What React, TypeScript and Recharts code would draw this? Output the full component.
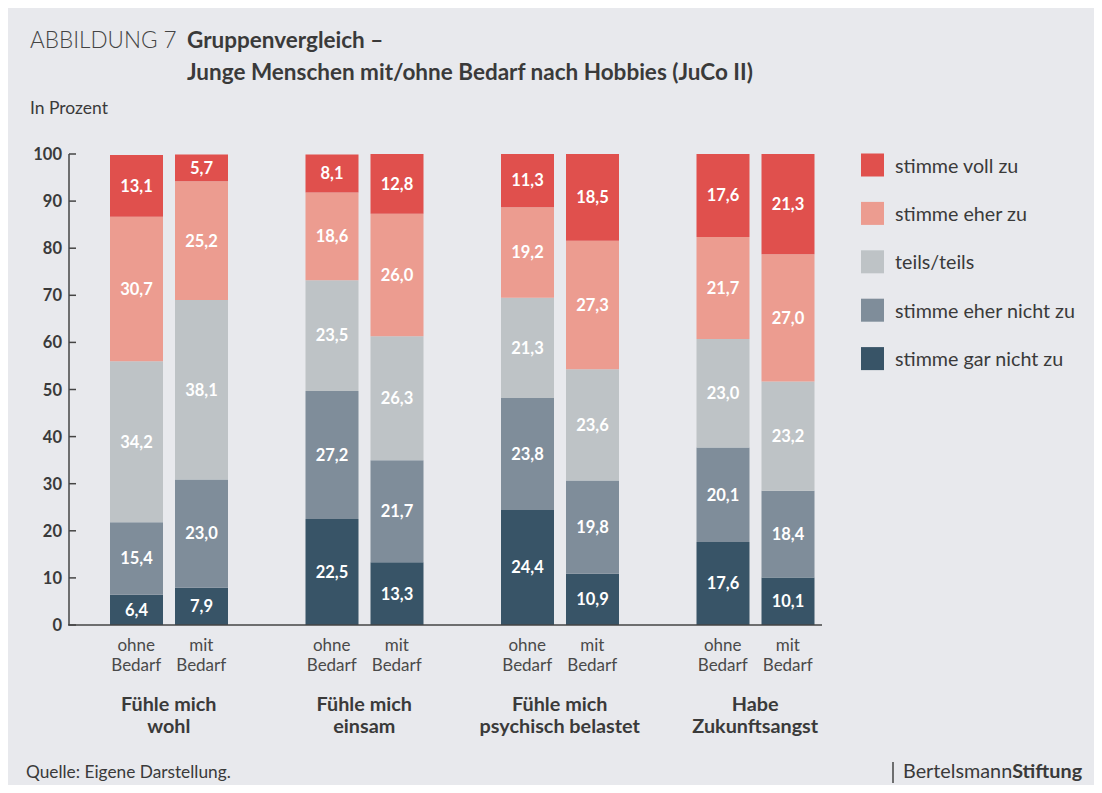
import React from "react";
import { BarChart, Bar, XAxis, YAxis, LabelList } from "recharts";

const groups = ["Fühle mich\nwohl", "Fühle mich\neinsam", "Fühle mich\npsychisch belastet", "Habe\nZukunftsangst"];
const subLabels = ["ohne\nBedarf", "mit\nBedarf"];
const answers = ["stimme gar nicht zu", "stimme eher nicht zu", "teils/teils", "stimme eher zu", "stimme voll zu"];
const yTicks = [0, 10, 20, 30, 40, 50, 60, 70, 80, 90, 100];

// bottom to top: gar nicht, eher nicht, teils, eher zu, voll zu
const ohneBedarf = [
	[6.4, 15.4, 34.2, 30.7, 13.1],
	[22.5, 27.2, 23.5, 18.6, 8.1],
	[24.4, 23.8, 21.3, 19.2, 11.3],
	[17.6, 20.1, 23.0, 21.7, 17.6],
];
const mitBedarf = [
	[7.9, 23.0, 38.1, 25.2, 5.7],
	[13.3, 21.7, 26.3, 26.0, 12.8],
	[10.9, 19.8, 23.6, 27.3, 18.5],
	[10.1, 18.4, 23.2, 27.0, 21.3],
];

const COLORS = ["#385467", "#7f8d9a", "#bec3c6", "#ec9c90", "#e0504d"];
const TEXT = "#3a3a3a";
const FONT = "Lato, 'Open Sans', sans-serif";

const data = groups.map((g, i) => {
	const row: Record<string, string | number> = { name: g };
	answers.forEach((_, k) => {
		row[`o${k}`] = ohneBedarf[i][k];
		row[`m${k}`] = mitBedarf[i][k];
	});
	return row;
});

const fmt = (v: any) => Number(v).toFixed(1).replace(".", ",");

const YTick = (props: any) => {
	const { x, y, payload } = props;
	return (
		<g>
			<line x1={x + 7} x2={x + 14} y1={y} y2={y} stroke="#444" strokeWidth={1.5} />
			<text x={x} y={y} dy={6} textAnchor="end" fontSize={16.5} fontWeight={700} fill={TEXT} fontFamily={FONT}>
				{payload.value}
			</text>
		</g>
	);
};

const XTick = (props: any) => {
	const { x, y, payload } = props;
	const lines = String(payload.value).split("\n");
	return (
		<g fontFamily={FONT}>
			{subLabels.map((s, i) =>
				s.split("\n").map((t, j) => (
					<text key={`${i}-${j}`} x={x + (i === 0 ? -32.5 : 32.5)} y={y + 25.5 + j * 20.5} textAnchor="middle" fontSize={17} fill="#4a4a4a">
						{t}
					</text>
				))
			)}
			{lines.map((t, j) => (
				<text key={`g${j}`} x={x} y={y + 86 + j * 22} textAnchor="middle" fontSize={19.8} fontWeight={700} fill={TEXT}>
					{t}
				</text>
			))}
		</g>
	);
};

const legendItems = [...answers].reverse();
const legendColors = [...COLORS].reverse();

export default function App() {
	return (
		<div style={{ position: "relative", width: 1086, height: 777, background: "#e8e9ed", fontFamily: FONT }}>
			<BarChart
				width={1086}
				height={777}
				data={data}
				margin={{ top: 146, right: 241, bottom: 0, left: 0 }}
				barSize={53}
				barGap={12}
			>
				<XAxis
					dataKey="name"
					axisLine={false}
					tickLine={false}
					tickSize={0}
					tickMargin={0}
					height={160}
					padding={{ left: 2, right: 0 }}
					interval={0}
					tick={<XTick />}
				/>
				<YAxis
					domain={[0, 100]}
					ticks={yTicks}
					allowDataOverflow
					width={61}
					tickLine={false}
					tickSize={0}
					tickMargin={7}
					axisLine={{ stroke: "#444", strokeWidth: 1.5 }}
					tick={<YTick />}
				/>
				{answers.map((a, k) => (
					<Bar key={`o${k}`} dataKey={`o${k}`} stackId="ohne" fill={COLORS[k]} isAnimationActive={false}>
						<LabelList dataKey={`o${k}`} position="center" formatter={fmt} fill="#fff" fontSize={16.5} fontWeight={700} fontFamily={FONT} />
					</Bar>
				))}
				{answers.map((a, k) => (
					<Bar key={`m${k}`} dataKey={`m${k}`} stackId="mit" fill={COLORS[k]} isAnimationActive={false}>
						<LabelList dataKey={`m${k}`} position="center" formatter={fmt} fill="#fff" fontSize={16.5} fontWeight={700} fontFamily={FONT} />
					</Bar>
				))}
			</BarChart>
			<svg width={1086} height={777} style={{ position: "absolute", left: 0, top: 0, pointerEvents: "none" }} fontFamily={FONT}>
				<line x1={60} x2={814} y1={617} y2={617} stroke="#444" strokeWidth={1.5} />
				<text x={22} y={39.5} fontSize={22.5} fontWeight={300} fill="#444">ABBILDUNG 7</text>
				<text x={179} y={39.5} fontSize={22.5} fontWeight={700} fill={TEXT}>Gruppenvergleich –</text>
				<text x={179} y={72} fontSize={22.5} fontWeight={700} fill={TEXT}>Junge Menschen mit/ohne Bedarf nach Hobbies (JuCo II)</text>
				<text x={22} y={106} fontSize={17.5} fill={TEXT}>In Prozent</text>
				{legendItems.map((l, i) => (
					<g key={l}>
						<rect x={853} y={145.5 + i * 48.4} width={23} height={23} fill={legendColors[i]} />
						<text x={887} y={164.5 + i * 48.4} fontSize={19.7} fill={TEXT}>{l}</text>
					</g>
				))}
				<text x={18} y={770} fontSize={17.3} fill={TEXT}>Quelle: Eigene Darstellung.</text>
				<line x1={885} x2={885} y1={754} y2={775} stroke="#444" strokeWidth={1.5} />
				<text x={895} y={770} fontSize={19.8} fill={TEXT}>
					Bertelsmann<tspan fontWeight={700}>Stiftung</tspan>
				</text>
			</svg>
		</div>
	);
}
